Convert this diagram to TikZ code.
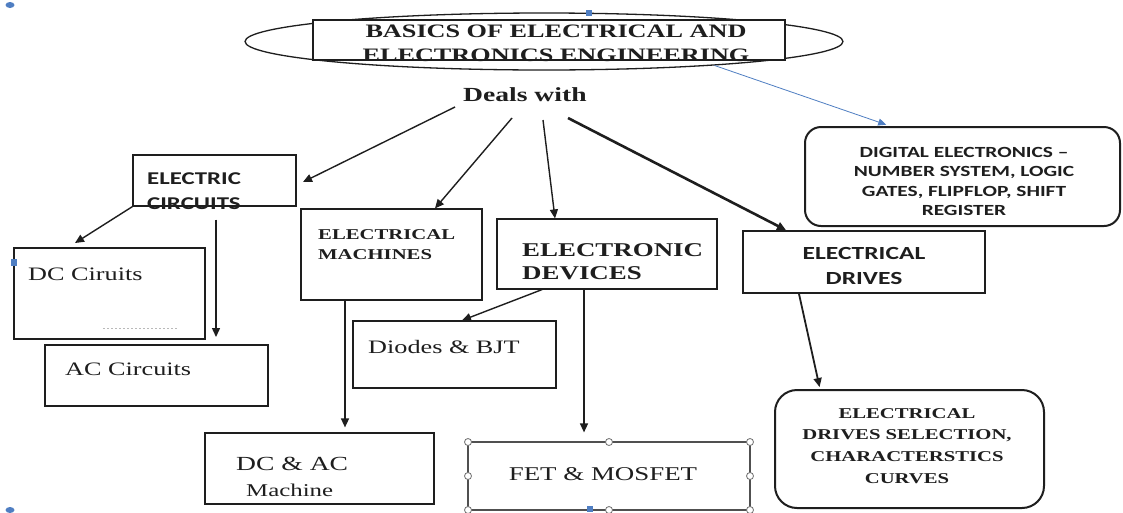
\documentclass[tikz,border=0pt]{standalone}
\usepackage{fontspec}
\usetikzlibrary{arrows.meta,shapes.geometric}
\newfontfamily\myserif[FakeStretch=1.38]{Liberation Serif}
\newfontfamily\mysans[FakeStretch=1.38]{Carlito}
\definecolor{lineblk}{HTML}{1E1E1E}
\definecolor{linegrey}{HTML}{505050}
\definecolor{selblue}{HTML}{4F7EC2}
\definecolor{handlegrey}{HTML}{707070}
\begin{document}
\begin{tikzpicture}[x=1pt,y=-1pt,
  box/.style={draw=lineblk, line width=1.2pt, inner sep=0pt, fill=white},
  rbox/.style={box, line width=2pt},
  txt/.style={inner sep=0pt, text=lineblk},
  arr/.style={draw=lineblk, line width=1.4pt, -{Triangle[length=9pt,width=8pt]}},
  bluearr/.style={draw=selblue, line width=0.8pt, -{Triangle[length=8pt,width=7pt]}},
  handle/.style={draw=handlegrey, fill=white, line width=0.8pt}
]
\useasboundingbox (0,0) rectangle (1123,512);
\fill[white] (0,0) rectangle (1123,512);

% title
\node[draw=lineblk, line width=1.3pt, ellipse, minimum width=598pt, minimum height=57pt, inner sep=0pt] (oval) at (544,41.5) {};
\node[box, minimum width=472pt, minimum height=40pt] (ttlbox) at (549,40) {};
\node[txt, anchor=north, align=center, font=\myserif\bfseries\fontsize{19}{23.5}\selectfont] (ttl) at (556,25) {BASICS OF ELECTRICAL AND\\ELECTRONICS ENGINEERING};
\node[txt, anchor=north west, font=\myserif\bfseries\fontsize{20}{24}\selectfont] (deals) at (463,87) {Deals with};

% boxes
\node[box, minimum width=163pt, minimum height=51pt] (ec) at (214.5,180.5) {};
\node[box, minimum width=181pt, minimum height=91pt] (em) at (391.5,254.5) {};
\node[box, minimum width=220pt, minimum height=70pt] (ed) at (607,254) {};
\node[box, line width=1.8pt, minimum width=242pt, minimum height=62pt] (drv) at (864,262) {};
\node[rbox, rounded corners=16pt, minimum width=315pt, minimum height=99pt] (dig) at (962.5,176.5) {};
\node[box, minimum width=191pt, minimum height=91pt] (dc) at (109.5,293.5) {};
\node[box, minimum width=223pt, minimum height=61pt] (ac) at (156.5,375.5) {};
\node[box, minimum width=203pt, minimum height=67pt] (dio) at (454.5,354.5) {};
\node[box, minimum width=229pt, minimum height=71pt] (dcm) at (319.5,468.5) {};
\node[box, draw=linegrey, minimum width=282pt, minimum height=68pt] (fet) at (609,476) {};
\node[rbox, rounded corners=22pt, minimum width=269pt, minimum height=118pt] (sel) at (909.5,449) {};

% texts
\node[txt, anchor=north west, align=left, font=\mysans\bfseries\fontsize{18}{25}\selectfont] (ect) at (147,172) {ELECTRIC\\CIRCUITS};
\node[txt, anchor=north west, align=left, font=\myserif\bfseries\fontsize{15}{20}\selectfont] (emt) at (318,229) {ELECTRICAL\\MACHINES};
\node[txt, anchor=north west, align=left, font=\myserif\bfseries\fontsize{19.5}{23.5}\selectfont] (edt) at (522,243) {ELECTRONIC\\DEVICES};
\node[txt, anchor=north, align=center, font=\mysans\bfseries\fontsize{18.5}{25}\selectfont] (drt) at (864,247) {ELECTRICAL\\DRIVES};
\node[txt, anchor=north, align=center, font=\mysans\bfseries\fontsize{15.5}{19.5}\selectfont] (dgt) at (964,147) {DIGITAL ELECTRONICS –\\NUMBER SYSTEM, LOGIC\\GATES, FLIPFLOP, SHIFT\\REGISTER};
\node[txt, anchor=north west, font=\myserif\fontsize{19}{23}\selectfont] (dct) at (28,268) {DC Ciruits};
\node[txt, anchor=north west, font=\myserif\fontsize{19}{23}\selectfont] (act) at (65,363) {AC Circuits};
\node[txt, anchor=north west, font=\myserif\fontsize{19}{23}\selectfont] (diot) at (368,340) {Diodes \& BJT};
\node[txt, anchor=north west, font=\myserif\fontsize{20}{24}\selectfont] (dcmta) at (236,457) {DC \& AC};
\node[txt, anchor=north west, font=\myserif\fontsize{18}{22}\selectfont] (dcmtb) at (246,484) {Machine};
\node[txt, anchor=north, font=\myserif\fontsize{19.5}{23}\selectfont] (fett) at (603,467) {FET \& MOSFET};
\node[txt, anchor=north, align=center, font=\myserif\bfseries\fontsize{15}{21.7}\selectfont] (selt) at (907,408) {ELECTRICAL\\DRIVES SELECTION,\\CHARACTERSTICS\\CURVES};

% dotted mark inside DC box
\draw[gray!55, dash pattern=on 2pt off 2pt, line width=0.6pt] (103,328) -- (178,328);

% connectors
\coordinate (s1) at (455,107);
\coordinate (e1) at (303,182);
\coordinate (s2) at (512,118);
\coordinate (s3) at (543,120);
\coordinate (s4) at (568,118);
\coordinate (e5) at (75,243);
\coordinate (e6) at (216,337);
\draw[arr] (s1) -- (e1);
\draw[arr] (s2) -- (435,0 |- em.north);
\draw[arr] (s3) -- (555,0 |- ed.north);
\draw[arr, line width=2.6pt] (s4) -- (786,0 |- drv.north);
\draw[arr] (ec.south west) -- (e5);
\draw[arr, shorten <=13pt] (216,0 |- ec.south) -- (e6);
\draw[arr, shorten >=5pt] (345,0 |- em.south) -- (345,0 |- dcm.north);
\draw[arr] (542,0 |- ed.south) -- (462,0 |- dio.north);
\draw[arr, shorten >=9pt] (584,0 |- ed.south) -- (584,0 |- fet.north);
\draw[arr, line width=1.8pt, shorten >=2pt] (799,0 |- drv.south) -- (820,0 |- sel.north);
\draw[bluearr, shorten >=4pt] (oval.-8) -- (890,0 |- dig.north);

% selection handles
\foreach \p in {(468,442),(609,442),(750,442),(468,476),(750,476),(468,510),(609,510),(750,510)}
  \draw[handle] \p circle (3.5pt);
\fill[selblue] (586,10) rectangle (592,16);
\fill[selblue] (11,259) rectangle (17,266);
\fill[selblue] (587,506) rectangle (593,512);
\fill[selblue] (10,5) ellipse (4.5pt and 3pt);
\fill[selblue] (10,510) ellipse (4.5pt and 3pt);
\end{tikzpicture}
\end{document}
